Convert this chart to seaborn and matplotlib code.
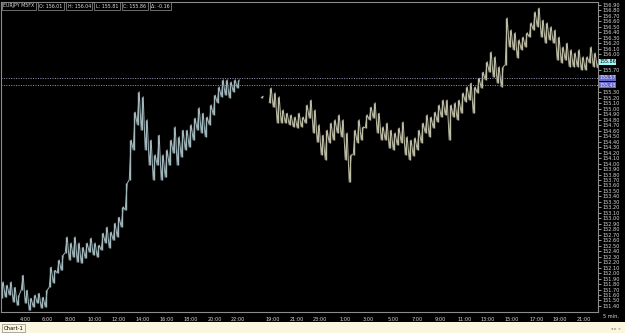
import numpy as np
import pandas as pd
import matplotlib
matplotlib.use("Agg")
import matplotlib.pyplot as plt
import seaborn as sns

nan = np.nan

# EURJPY 5 min chart, bars grouped in slots (one slot ~ 20 min)
fri_hi = [151.84, 151.78, 151.84, 151.74, 151.60, 151.96, 151.69, 151.54, 151.60, 151.63,
          151.56, 151.69, 152.11, 152.05, 152.24, 152.33, 152.66, 152.55, 152.66, 152.55,
          152.47, 152.55, 152.64, 152.55, 152.51, 152.73, 152.84, 152.75, 152.91, 153.02,
          153.21, 153.64, 154.43, 154.94, 155.31, 155.22, 154.80, 154.43, 154.16, 154.52,
          154.16, 154.25, 154.43, 154.67, 154.49, 154.61, 154.61, 154.71, 154.83, 155.02,
          154.92, 154.85, 155.07, 155.25, 155.40, 155.53, 155.53, 155.49, 155.53, 155.53]
fri_lo = [151.54, 151.56, 151.60, 151.47, 151.41, 151.69, 151.45, 151.32, 151.38, 151.45,
          151.36, 151.38, 151.74, 151.82, 152.00, 152.05, 152.37, 152.24, 152.29, 152.20,
          152.18, 152.27, 152.38, 152.33, 152.29, 152.42, 152.55, 152.46, 152.60, 152.66,
          152.84, 153.15, 153.70, 154.25, 154.71, 154.61, 154.25, 153.97, 153.70, 153.97,
          153.70, 153.75, 153.97, 154.19, 153.97, 154.12, 154.25, 154.30, 154.43, 154.61,
          154.56, 154.49, 154.71, 154.89, 155.11, 155.22, 155.25, 155.20, 155.31, 155.38]

mon_start = 65
mon_hi = [155.23, nan,
          155.38, 155.29, 155.22, 154.98, 154.92, 154.89, 154.85, 154.92, 154.85, 155.07,
          155.16, 154.98, 154.71, 154.52, 154.61, 154.74, 154.80, 154.89, 154.80, 154.56,
          154.16, 154.61, 154.80, 154.67, 154.89, 155.03, 155.11, 154.92, 154.67, 154.74,
          154.61, 154.56, 154.65, 154.76, 154.49, 154.43, 154.47, 154.61, 154.74, 154.89,
          154.85, 154.94, 155.07, 155.16, 155.16, 155.07, 155.11, 155.16, 155.29, 155.40,
          155.47, 155.40, 155.56, 155.67, 155.86, 156.04, 155.95, 155.77, 155.77, 156.66,
          156.44, 156.39, 156.26, 156.31, 156.39, 156.57, 156.77, 156.84, 156.62, 156.57,
          156.50, 156.44, 156.31, 156.13, 156.20, 156.08, 156.02, 156.08, 155.95, 155.95,
          156.13, 156.02, 155.89]
mon_lo = [155.20, nan,
          155.11, 155.03, 154.74, 154.74, 154.74, 154.71, 154.67, 154.65, 154.67, 154.74,
          154.83, 154.56, 154.39, 154.16, 154.07, 154.38, 154.43, 154.56, 154.49, 154.07,
          153.66, 154.16, 154.38, 154.43, 154.65, 154.80, 154.83, 154.56, 154.43, 154.43,
          154.28, 154.25, 154.34, 154.38, 154.16, 154.07, 154.14, 154.25, 154.38, 154.56,
          154.49, 154.65, 154.76, 154.85, 154.89, 154.43, 154.85, 154.80, 154.92, 155.13,
          155.16, 154.92, 155.29, 155.38, 155.53, 155.67, 155.58, 155.47, 155.40, 155.80,
          156.13, 156.08, 155.93, 156.08, 156.13, 156.31, 156.44, 156.50, 156.31, 156.20,
          156.26, 156.20, 155.89, 155.84, 155.89, 155.77, 155.77, 155.77, 155.71, 155.71,
          155.84, 155.77, 155.75]

levels = [155.57, 155.43]
last_price = 155.86

tick_labels = ["4:00", "6:00", "8:00", "10:00", "12:00", "14:00", "16:00", "18:00", "20:00",
               "22:00", "19:00", "21:00", "23:00", "1:00", "3:00", "5:00", "7:00", "9:00",
               "11:00", "13:00", "15:00", "17:00", "19:00", "21:00"]
tick_pos = [5.75, 11.25, 17.0, 23.25, 29.25, 35.25, 41.25, 47.25, 53.25, 59.0,
            67.75, 73.75, 79.5, 85.75, 91.5, 97.75, 103.75, 109.5, 115.75, 121.5,
            127.5, 133.75, 139.5, 145.5]

header = ["EURJPY M5FX", "O: 156.01", "H: 156.04", "L: 155.81", "C: 155.86", "Δ: -0.16"]

# build table of bars
fri = pd.DataFrame({"slot": np.arange(len(fri_hi)), "hi": fri_hi, "lo": fri_lo, "session": "fri"})
mon = pd.DataFrame({"slot": mon_start + np.arange(len(mon_hi)), "hi": mon_hi, "lo": mon_lo,
                    "session": "mon"})
bars = pd.concat([fri, mon], ignore_index=True)
bars["run"] = bars["session"] + bars["hi"].isna().cumsum().astype(str)
bars = bars.dropna()

# zigzag path low -> high inside each slot
zz_lo = bars[["slot", "lo", "session", "run"]].rename(columns={"lo": "price"})
zz_hi = bars[["slot", "hi", "session", "run"]].rename(columns={"hi": "price"})
zz_lo["x"] = zz_lo["slot"] - 0.2
zz_hi["x"] = zz_hi["slot"] + 0.3
zz = pd.concat([zz_lo, zz_hi]).sort_values(["x"]).reset_index(drop=True)

sns.set_style("dark", {"axes.facecolor": "black", "figure.facecolor": "black",
                       "axes.edgecolor": "#8c8c8c", "axes.grid": False})
plt.rcParams["font.family"] = ["DejaVu Sans"]

colors = {"fri": "#a3b8bc", "mon": "#bdbca6"}

fig = plt.figure(figsize=(6.25, 3.33), dpi=100, facecolor="black")
ax = fig.add_axes([1 / 625, 1 - 312 / 333, 597 / 625, 310 / 333])
ax.set_facecolor("black")

sns.lineplot(data=zz, x="x", y="price", hue="session", units="run", estimator=None,
             sort=False, palette=colors, linewidth=0.7, legend=False, ax=ax)
for s, grp in bars.groupby("session"):
    ax.vlines(grp["slot"], grp["lo"], grp["hi"], color=colors[s], linewidth=1.0)

for lv in levels:
    ax.axhline(lv, color="#9a9ab8", linestyle=(0, (1, 1.5)), linewidth=0.7)

ax.set_xlim(-0.25, 149.0)
ax.set_ylim(151.29, 156.95)
ax.set_xlabel("")
ax.set_ylabel("")

ax.set_xticks(tick_pos)
ax.set_xticklabels(tick_labels)
yt = np.round(np.arange(151.40, 156.95, 0.10), 2)
# labels hidden under the price boxes
yt = [v for v in yt if min(abs(v - last_price), *[abs(v - l) for l in levels]) > 0.08]
ax.set_yticks(yt)
ax.set_yticklabels([f"{v:.2f}" for v in yt])
ax.yaxis.tick_right()
ax.tick_params(axis="both", colors="#d8d8d8", labelsize=3.6, length=2, width=0.5, pad=1)
ax.tick_params(axis="x", pad=1.5)
for sp in ax.spines.values():
    sp.set_color("#8c8c8c")
    sp.set_linewidth(0.8)

# price boxes on the right scale
y0, y1 = ax.get_ylim()
def fig_y(price):
    b = ax.get_position()
    return b.y0 + (price - y0) / (y1 - y0) * b.height

fig.text(599 / 625, fig_y(last_price), f"{last_price:.2f}", fontsize=3.4, color="black",
         va="center", ha="left",
         bbox=dict(boxstyle="square,pad=0.1", fc="#9ff7f7", ec="none"))
for lv in levels:
    fig.text(599 / 625, fig_y(lv), f"{lv:.2f}", fontsize=3.4, color="#e8e8ff",
             va="center", ha="left",
             bbox=dict(boxstyle="square,pad=0.1", fc="#6868c8", ec="none"))

# header boxes, chained left to right
renderer = fig.canvas.get_renderer()
x = 3
for t in header:
    txt = fig.text(x / 625, 1 - 6 / 333, t, fontsize=3.4, color="#e0e0e0", va="center",
                   ha="left",
                   bbox=dict(boxstyle="square,pad=0.3", fc="black", ec="#9a9a9a", lw=0.5))
    x = txt.get_window_extent(renderer).x1 + 5

fig.text(603 / 625, 1 - 316 / 333, "5 min.", fontsize=3.6, color="#e0e0e0", va="center")

# bottom tab strip
fig.patches.append(plt.Rectangle((0, 0), 1, 11 / 333, transform=fig.transFigure,
                                 facecolor="#fbf6df", edgecolor="none", zorder=0))
fig.text(4 / 625, 5 / 333, "Chart-1", fontsize=3.8, color="black", va="center", ha="left",
         bbox=dict(boxstyle="square,pad=0.3", fc="#fbf6df", ec="#8a8a8a", lw=0.5))
fig.text(621 / 625, 4 / 333, "◂ ▸ ×", fontsize=3.0, color="#808080", va="center", ha="right")

fig.savefig("out.png", dpi=100, facecolor="black")
